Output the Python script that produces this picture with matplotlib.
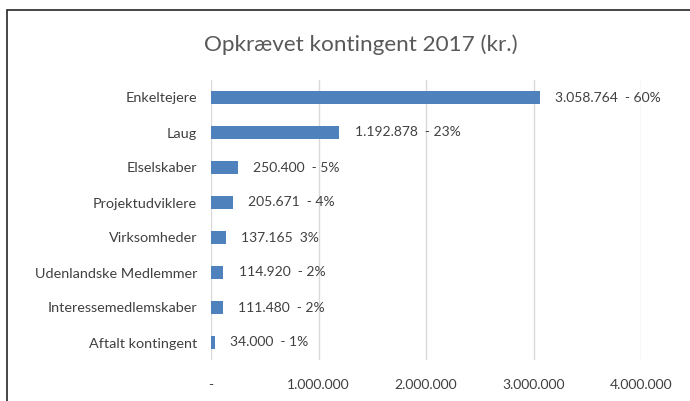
import matplotlib
matplotlib.use("Agg")
import matplotlib.pyplot as plt
from matplotlib.patches import Rectangle

categories = ["Enkeltejere", "Laug", "Elselskaber", "Projektudviklere", "Virksomheder",
              "Udenlandske Medlemmer", "Interessemedlemskaber", "Aftalt kontingent"]
values = [3058764, 1192878, 250400, 205671, 137165, 114920, 111480, 34000]
labels = ["3.058.764  - 60%", "1.192.878  - 23%", "250.400  - 5%", "205.671  - 4%",
          "137.165  3%", "114.920  - 2%", "111.480  - 2%", "34.000  - 1%"]
xticks = [0, 1000000, 2000000, 3000000, 4000000]
xticklabels = ["-", "1.000.000", "2.000.000", "3.000.000", "4.000.000"]

W, H = 690, 401
fig = plt.figure(figsize=(W/100, H/100), dpi=100)
plt.rcParams['font.family'] = ['Lato', 'DejaVu Sans']
txt = '#404040'

ax = fig.add_axes([211/W, 1-360/H, (641-211)/W, (360-80)/H])
n = len(categories)
ypos = list(range(n))
ax.barh(ypos, values, height=0.36, color='#4F81BD', zorder=3)
ax.set_ylim(n-0.5, -0.5)
ax.set_xlim(0, 4000000)
ax.set_yticks(ypos)
ax.set_yticklabels(categories, fontsize=10.4, color=txt)
ax.set_xticks(xticks)
ax.set_xticklabels(xticklabels, fontsize=10, color=txt)
ax.tick_params(axis='both', length=0)
ax.tick_params(axis='y', pad=10)
ax.tick_params(axis='x', pad=14)
for s in ax.spines.values():
    s.set_visible(False)
ax.grid(axis='x', color='#D9D9D9', linewidth=1, zorder=0)
for y, v, l in zip(ypos, values, labels):
    ax.annotate(l, (v, y), xytext=(11, 0), textcoords='offset points', va='center',
                ha='left', fontsize=10, color=txt)

fig.text(361/W, 1-45/H, "Opkrævet kontingent 2017 (kr.)", ha='center', va='center',
         fontsize=16.2, color='#595959')

fig.patches.append(Rectangle((7/W, -0.1), 1.2, 1-10/H+0.1, transform=fig.transFigure,
                             fill=False, edgecolor='#262626', linewidth=1.2))
fig.savefig("out.png", dpi=100)
